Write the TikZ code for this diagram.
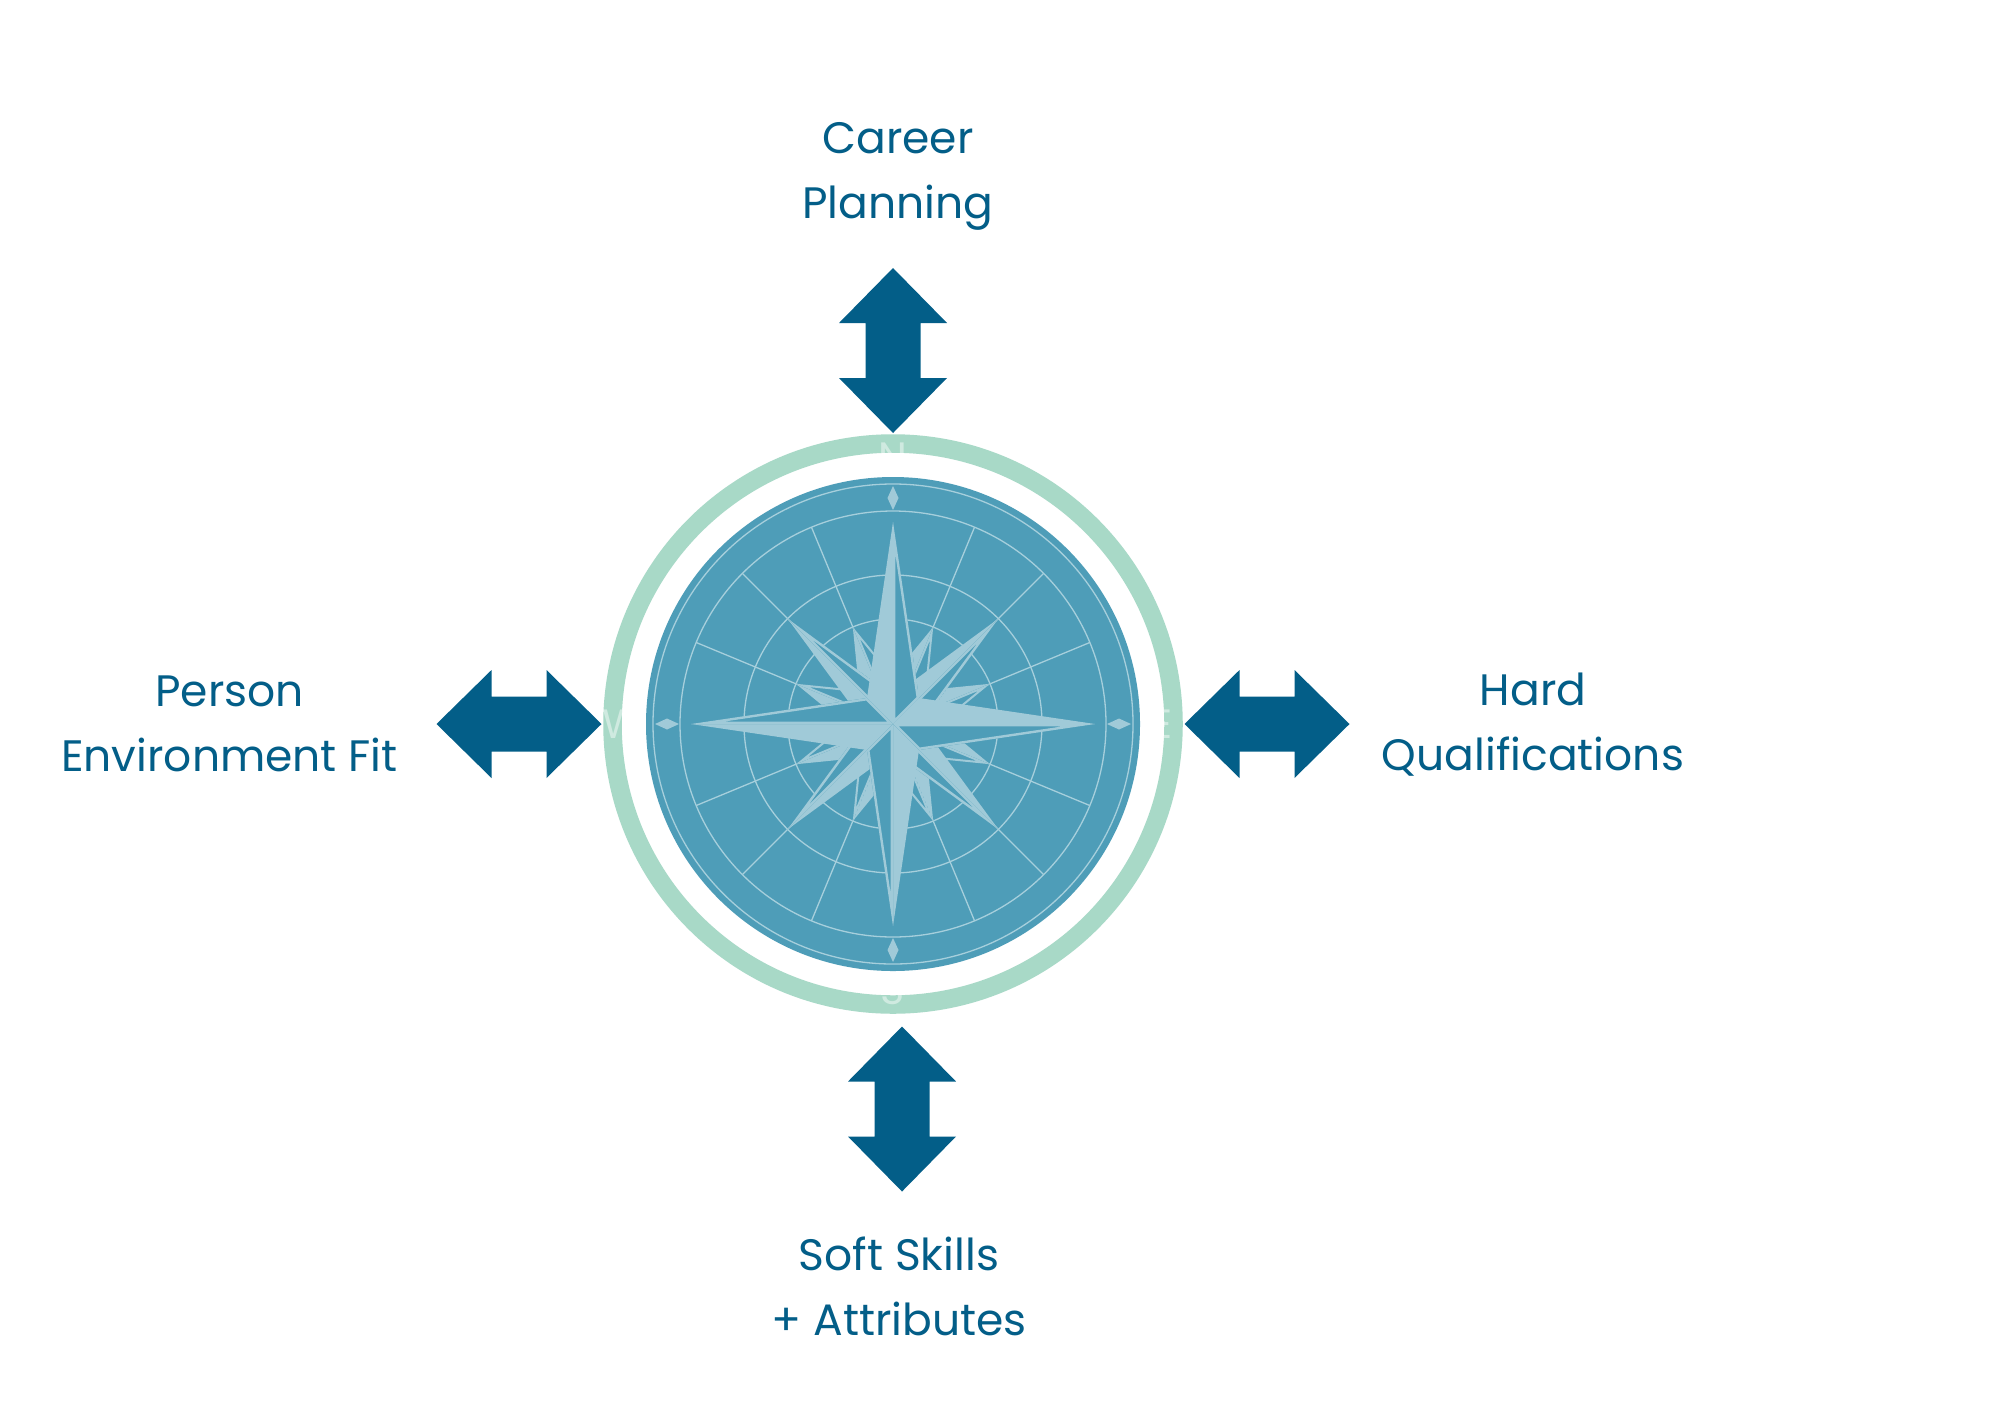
\documentclass[tikz,border=0pt]{standalone}
\usepackage{fontspec}
\setmainfont{Poppins}
\definecolor{navy}{HTML}{035E88}
\definecolor{mint}{HTML}{A8D9C7}
\definecolor{discc}{HTML}{4E9DB8}
\definecolor{starc}{HTML}{A0CAD8}
\definecolor{linec}{HTML}{A6CFDC}
\begin{document}
\begin{tikzpicture}[x=0.5pt,y=-0.5pt,
  lbltext/.style={text=navy, font=\fontsize{22}{32.5}\selectfont, align=center, anchor=base, inner sep=0pt},
  cletter/.style={text=white, text opacity=0.45, font=\fontsize{20.5}{20}\selectfont, inner sep=0pt, anchor=center},
  gridline/.style={linec, line width=0.65pt},
  outlined/.style={fill=discc, draw=starc, line width=2.4pt, line join=miter},
  dblarrow/.pic={\fill[navy] (0,-82.5) -- (54,-27.5) -- (27.5,-27.5) -- (27.5,27.5) -- (54,27.5) -- (0,82.5) -- (-54,27.5) -- (-27.5,27.5) -- (-27.5,-27.5) -- (-54,-27.5) -- cycle;}]
\fill[white] (0,0) rectangle (2000,1414);
\useasboundingbox (0,0) rectangle (2000,1414);

% labels (anchored at the baseline of their last line)
\node[lbltext] (career) at (898,218) {Career\\Planning};
\node[lbltext] (pef) at (229.5,771) {Person\\Environment Fit};
\node[lbltext] (hard) at (1533,770) {Hard\\Qualifications};
\node[lbltext] (soft) at (899,1335) {Soft Skills\\+ Attributes};

% double arrows
\coordinate (arrN) at (893,350.5);
\coordinate (arrS) at (902,1109);
\coordinate (arrW) at (519,724);
\coordinate (arrE) at (1267,724);
\pic at (arrN) {dblarrow};
\pic at (arrS) {dblarrow};
\pic[rotate=90] at (arrW) {dblarrow};
\pic[rotate=90] at (arrE) {dblarrow};

% compass
\coordinate (ctr) at (893,724);
\begin{scope}[shift={(ctr)}]
  \draw[mint, line width=9.25pt] (0,0) circle[radius=280.5];
  \fill[discc] (0,0) circle[radius=247];
  \foreach \r in {105,149,213,240} \draw[gridline] (0,0) circle[radius=\r];
  \foreach \a in {22.5,45,67.5,112.5,135,157.5,202.5,225,247.5,292.5,315,337.5}
    \draw[gridline] (0,0) -- (\a:213);
  \foreach \rot in {0,90,180,270}
    \fill[starc, rotate=\rot] (0,-214) -- (5.5,-226) -- (0,-238) -- (-5.5,-226) -- cycle;
  % small points
  \foreach \rot in {0,90,180,270}{
    \begin{scope}[rotate=\rot]
      \fill[starc] (0,0) -- (0,-48) -- (40.2,-97) -- cycle;
      \begin{scope}
        \clip (0,0) -- (40.2,-97) -- (33.9,-33.9) -- cycle;
        \filldraw[outlined, line width=2pt] (0,0) -- (40.2,-97) -- (33.9,-33.9) -- cycle;
      \end{scope}
      \fill[starc] (0,0) -- (33.9,-33.9) -- (97,-40.2) -- cycle;
      \begin{scope}
        \clip (0,0) -- (97,-40.2) -- (48,0) -- cycle;
        \filldraw[outlined, line width=2pt] (0,0) -- (97,-40.2) -- (48,0) -- cycle;
      \end{scope}
    \end{scope}
  }
  % diagonal points
  \foreach \rot in {0,90,180,270}{
    \begin{scope}[rotate=\rot]
      \fill[starc] (0,0) -- (0,-28) -- (105.4,-105.4) -- cycle;
      \begin{scope}
        \clip (0,0) -- (105.4,-105.4) -- (28,0) -- cycle;
        \filldraw[outlined] (0,0) -- (105.4,-105.4) -- (28,0) -- cycle;
      \end{scope}
    \end{scope}
  }
  % main points
  \foreach \rot in {0,90,180,270}{
    \begin{scope}[rotate=\rot]
      \fill[starc] (0,0) -- (-26,-26) -- (0,-202) -- cycle;
      \begin{scope}
        \clip (0,0) -- (0,-202) -- (26,-26) -- cycle;
        \filldraw[outlined] (0,0) -- (0,-202) -- (26,-26) -- cycle;
      \end{scope}
    \end{scope}
  }
  % cardinal letters
  \node[cletter] (lN) at (0,-267) {N};
  \node[cletter] (lS) at (0,266) {S};
  \node[cletter] (lW) at (-271,0) {W};
  \node[cletter] (lE) at (269,0) {E};
\end{scope}
\end{tikzpicture}
\end{document}
